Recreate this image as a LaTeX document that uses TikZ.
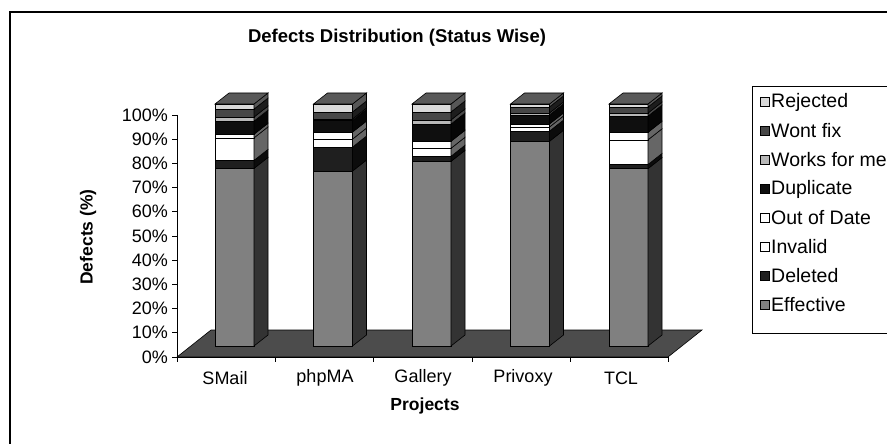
\documentclass[tikz,border=0pt]{standalone}
\usepackage{fontspec}
\setmainfont{Liberation Sans}
\definecolor{cRej}{gray}{0.85}
\definecolor{cWont}{gray}{0.28}
\definecolor{cWorks}{gray}{0.72}
\definecolor{cDup}{gray}{0.06}
\definecolor{cOod}{gray}{1}
\definecolor{cInv}{gray}{1}
\definecolor{cDel}{gray}{0.12}
\definecolor{cEff}{gray}{0.5}
\definecolor{cFloor}{gray}{0.3}
\definecolor{cTop}{gray}{0.35}
\newcommand{\mybar}[9]{%
  \def\xl{#1}%
  \foreach \p/\c [evaluate=\p as \tp using \prv+\p, remember=\tp as \prv (initially 0)] in
     {#2/cEff,#3/cDel,#4/cInv,#5/cOod,#6/cDup,#7/cWorks,#8/cWont,#9/cRej}{%
    \pgfmathsetmacro{\ya}{346-2.42*\prv}%
    \pgfmathsetmacro{\yb}{346-2.42*\tp}%
    \pgfmathsetmacro{\xr}{\xl+39}%
    \pgfmathsetmacro{\xs}{\xl+53}%
    \pgfmathsetmacro{\yas}{\ya-11}%
    \pgfmathsetmacro{\ybs}{\yb-11}%
    \filldraw[fill=\c, segline] (\xl,\ya) rectangle (\xr,\yb);
    \filldraw[fill=\c!40!black, segline] (\xr,\ya) -- (\xs,\yas) -- (\xs,\ybs) -- (\xr,\yb) -- cycle;
  }%
  \pgfmathsetmacro{\xr}{\xl+39}%
  \pgfmathsetmacro{\xs}{\xl+53}%
  \pgfmathsetmacro{\xt}{\xl+14}%
  \filldraw[fill=cTop, segline] (\xl,104) -- (\xr,104) -- (\xs,93) -- (\xt,93) -- cycle;
}
\begin{document}
\begin{tikzpicture}[x=1pt,y=-1pt,
  lbl/.style={font=\fontsize{18}{21}\selectfont, inner sep=0pt},
  ttl/.style={font=\fontsize{18.5}{21}\selectfont\bfseries, inner sep=0pt},
  leg/.style={font=\fontsize{19.5}{22}\selectfont, inner sep=0pt, anchor=west},
  segline/.style={draw=black, line width=0.6pt},
  swatch/.style={draw=black, line width=0.6pt, minimum size=9pt, inner sep=0pt},
  axisline/.style={draw=black, line width=0.9pt},
]
\useasboundingbox (0,0) rectangle (887,444);
% outer frame
\draw[line width=1.2pt] (10,444) -- (10,12) -- (890,12);
% title
\node[ttl] (title) at (397,38) {Defects Distribution (Status Wise)};
% floor
\filldraw[fill=cFloor, segline] (177,357) -- (668,357) -- (702,330) -- (211,330) -- cycle;
% y axis
\draw[axisline] (177,115) -- (177,357);
\foreach \v [count=\i] in {0,10,...,100}{
  \pgfmathsetmacro{\yy}{357-2.42*\v}
  \draw[axisline] (172,\yy) -- (177,\yy);
  \node[lbl, anchor=east] (yt\i) at (168,\yy) {\v\%};
}
% x axis
\draw[axisline] (177,357) -- (668,357);
\foreach \x in {177,275,373,472,570,668}{
  \draw[axisline] (\x,357) -- (\x,362);
}
% bars
\mybar{215}{73.4}{3.3}{9.3}{1.5}{5.4}{1.7}{3.3}{2.1}
\mybar{313.5}{72.3}{9.9}{3.3}{2.9}{4.8}{0.6}{2.9}{3.3}
\mybar{412}{76.3}{2.1}{3.3}{2.9}{7.1}{1.7}{3.3}{3.3}
\mybar{510.5}{84.6}{4.2}{1.7}{1.25}{3.75}{0.8}{2.5}{1.2}
\mybar{609}{73.3}{1.7}{10.2}{3.1}{6.7}{1.25}{2.5}{1.25}
% category labels
\node[lbl] (c1) at (225,378) {SMail};
\node[lbl] (c2) at (325,378) {phpMA};
\node[lbl] (c3) at (423,378) {Gallery};
\node[lbl] (c4) at (523,378) {Privoxy};
\node[lbl] (c5) at (621,378) {TCL};
% axis titles
\node[ttl, font=\fontsize{17.5}{20}\selectfont\bfseries] (xt) at (425,406) {Projects};
\node[ttl, font=\fontsize{17.5}{20}\selectfont\bfseries, rotate=90] (yt) at (88,237) {Defects (\%)};
% legend
\draw[line width=0.8pt] (895,86) -- (752,86) -- (752,333) -- (895,333);
\foreach \lab/\col [count=\k from 0] in {Rejected/cRej, Wont fix/cWont, Works for me/cWorks, Duplicate/cDup, Out of Date/cOod, Invalid/cInv, Deleted/cDel, Effective/cEff}{
  \pgfmathsetmacro{\ly}{102+29*\k}
  \node[swatch, fill=\col] (s\k) at (764.5,\ly) {};
  \node[leg] (l\k) at (771,\ly) {\lab};
}
\end{tikzpicture}
\end{document}
